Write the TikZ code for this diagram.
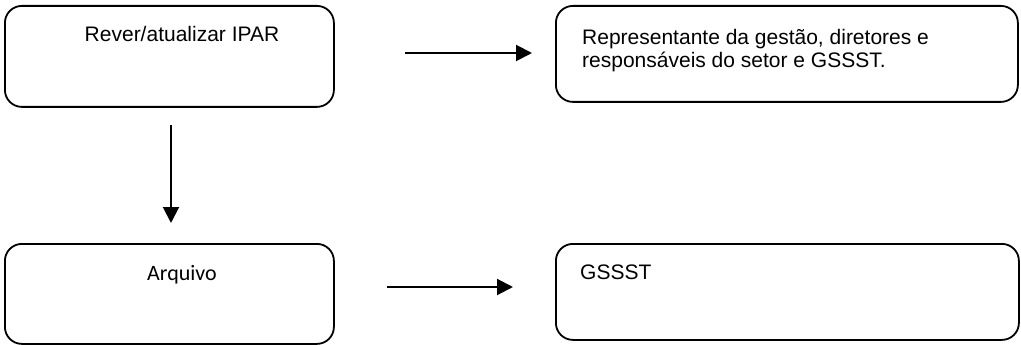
\documentclass[tikz,border=0pt]{standalone}
\usepackage{fontspec}
\setmainfont{Liberation Sans}
\newfontfamily\carlito{Carlito}
\usetikzlibrary{arrows.meta}
\begin{document}
\begin{tikzpicture}[x=1pt,y=-1pt,
  box/.style={draw, line width=1.8pt, rounded corners=17pt, anchor=north west, inner sep=0pt},
  txt/.style={inner sep=0pt, font=\fontsize{21}{23}\selectfont},
  flow/.style={line width=2pt, -{Triangle[length=16pt,width=16pt]}}]
\useasboundingbox (0,0) rectangle (1021,345);
% boxes
\node[box, minimum width=329pt, minimum height=101pt] (b1) at (4,5) {};
\node[box, minimum width=462pt, minimum height=96pt] (b2) at (555,5) {};
\node[box, minimum width=329pt, minimum height=100pt] (b3) at (4,243) {};
\node[box, minimum width=463pt, minimum height=96pt] (b4) at (555,243) {};
% labels
\node[txt, anchor=base] (t1) at (182,42) {Rever/atualizar IPAR};
\node[txt, anchor=base west, align=left] (t2) at (582,67) {Representante da gestão, diretores e\\responsáveis do setor e GSSST.};
\node[inner sep=0pt, font=\carlito\fontsize{22}{24}\selectfont, anchor=base] (t3) at (182,280) {Arquivo};
\node[txt, anchor=base west] (t4) at (580,279) {GSSST};
% connector end points
\coordinate (a1s) at (405,53);
\coordinate (a1e) at (532,53);
\coordinate (a2s) at (387,287);
\coordinate (a2e) at (513,287);
\coordinate (vs) at (171,125);
\coordinate (ve) at (171,223);
\draw[flow] (a1s) -- (a1e);
\draw[flow] (a2s) -- (a2e);
\draw[flow] (vs) -- (ve);
\end{tikzpicture}
\end{document}
